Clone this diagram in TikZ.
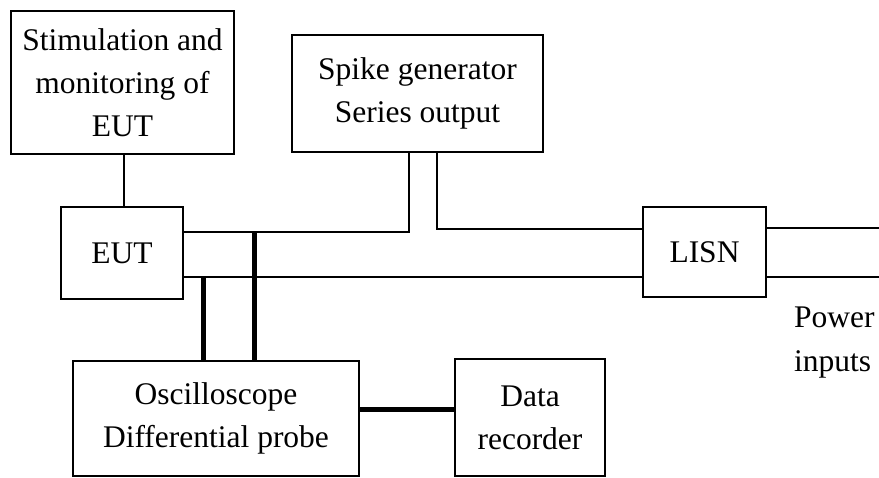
\documentclass[tikz,border=0pt]{standalone}
\usepackage{fontspec}
\setmainfont{Liberation Serif}
\usetikzlibrary{calc}

\tikzset{
  unit/.style={draw, line width=2.4pt, rectangle, inner sep=0pt, align=center,
    font=\fontsize{31.5}{43}\selectfont},
  wire/.style={line width=1.8pt},
  lead/.style={line width=1.3pt},
  probe/.style={line width=5pt}
}

\begin{document}
\begin{tikzpicture}[x=1pt,y=-1pt]

      \useasboundingbox (0,0) rectangle (879,478);

      % Blocks
      \node[unit, minimum width=223pt, minimum height=143pt] (stim) at (122.5,82.5)
        {Stimulation and\\monitoring of\\EUT};
      \node[unit, minimum width=251pt, minimum height=117pt] (spike) at (417.5,93.5)
        {Spike generator\\Series output};
      \node[unit, minimum width=122pt, minimum height=92pt] (eut) at (122,253) {EUT};
      \node[unit, minimum width=123pt, minimum height=90pt] (lisn) at (704.5,252) {LISN};
      \node[unit, minimum width=286pt, minimum height=115pt] (osc) at (216,418.5)
        {Oscilloscope\\Differential probe};
      \node[unit, minimum width=150pt, minimum height=117pt] (rec) at (530,417.5)
        {Data\\recorder};

      \node[anchor=base west, align=left, inner sep=0pt,
        font=\fontsize{31.5}{44}\selectfont] (pwr) at (794,372) {Power\\inputs};

      % Junction points
      \coordinate (tapA) at (409,232);
      \coordinate (tapB) at (437,229);
      \coordinate (probeA) at (254,232);
      \coordinate (probeB) at (203,277);
      \coordinate (endA) at (879,228);
      \coordinate (endB) at (879,277);

      % Lines
      \draw[lead] (stim.south -| 124,0) -- (eut.north -| 124,0);
      \draw[lead] (spike.south -| tapA) -- (tapA) -- (eut.east |- tapA);
      \draw[lead] (spike.south -| tapB) -- (tapB) -- (lisn.west |- tapB);
      \draw[wire] (eut.east |- probeB) -- (lisn.west |- probeB);
      \draw[wire] (lisn.east |- endA) -- (endA);
      \draw[wire] (lisn.east |- endB) -- (endB);

      % Probes
      \draw[probe] (probeA) -- (osc.north -| probeA);
      \draw[probe] (probeB) -- (osc.north -| probeB);
      \draw[probe] (osc.east |- 0,410) -- (rec.west |- 0,410);

\end{tikzpicture}
\end{document}
